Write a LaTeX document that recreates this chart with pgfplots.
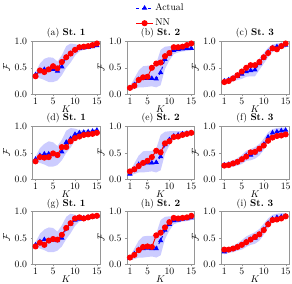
\documentclass[border=0pt]{standalone}
\usepackage{pgfplots}
\pgfplotsset{compat=1.18}
\definecolor{spine}{RGB}{150,150,150}
\definecolor{band}{RGB}{204,204,255}
\pgfplotsset{
  every axis title shift=0pt,
  panel/.style={
    scale only axis, width=69bp, height=54bp,
    xmin=0.3, xmax=15.7, ymin=0, ymax=1,
    xtick={1,5,10,15}, ytick={0,0.5,1}, yticklabels={0.0,0.5,1.0},
    axis line style={spine}, tick style={spine}, tick align=outside,
    major tick length=2pt, xtick pos=bottom, ytick pos=left,
    xticklabel style={inner sep=1.5pt},
    xlabel={$K$}, ylabel={$\mathcal{F}$},
    xlabel style={at={(axis description cs:0.5,-0.2)}, anchor=north, inner sep=1pt},
    ylabel style={yshift=-2pt},
    title style={at={(axis description cs:0.5,1)}, anchor=south, inner sep=0pt, yshift=3pt},
    anchor=north west, clip=false,
  },
  actual/.style={blue, dashed, line width=1pt, mark=triangle*, mark size=2.2pt, mark options={solid}},
  nn/.style={red, solid, line width=1pt, mark=*, mark size=2.6pt},
  bandst/.style={fill=band, draw=none, forget plot},
}
\begin{document}
\begin{tikzpicture}
% ---------- (a)
\begin{axis}[panel, at={(0bp,0bp)}, title={(a) \textbf{St.\ 1}}]
\addplot[bandst] coordinates {(1,0.42)(2,0.58)(3,0.67)(4,0.70)(5,0.69)(6,0.62)(7,0.74)(8,0.91)(9,0.96)(10,0.95)(11,0.92)(12,0.92)(13,0.92)(14,0.93)(15,0.95)
 (15,0.89)(14,0.87)(13,0.86)(12,0.84)(11,0.81)(10,0.73)(9,0.60)(8,0.50)(7,0.36)(6,0.26)(5,0.23)(4,0.23)(3,0.27)(2,0.30)(1,0.32)} --cycle;
\addplot[actual] coordinates {(1,0.37)(2,0.43)(3,0.47)(4,0.46)(5,0.47)(6,0.44)(7,0.52)(8,0.70)(9,0.77)(10,0.83)(11,0.87)(12,0.88)(13,0.89)(14,0.90)(15,0.92)};
\addplot[nn] coordinates {(1,0.34)(2,0.45)(3,0.42)(4,0.47)(5,0.53)(6,0.49)(7,0.61)(8,0.70)(9,0.77)(10,0.84)(11,0.89)(12,0.90)(13,0.91)(14,0.93)(15,0.96)};
\end{axis}
% ---------- (b)
\begin{axis}[panel, at={(96.5bp,0bp)}, title={(b) \textbf{St.\ 2}},
  legend style={at={(0.5,1.19)}, anchor=south, draw=none, fill=none, row sep=3pt},
  legend cell align=left]
\addplot[bandst] coordinates {(1,0.15)(2,0.30)(3,0.45)(4,0.53)(5,0.54)(6,0.54)(7,0.58)(8,0.84)(9,0.90)(10,0.91)(11,0.91)(12,0.91)(13,0.91)(14,0.92)(15,0.92)
 (15,0.83)(14,0.82)(13,0.81)(12,0.79)(11,0.76)(10,0.64)(9,0.48)(8,0.17)(7,0.13)(6,0.15)(5,0.14)(4,0.13)(3,0.13)(2,0.10)(1,0.08)} --cycle;
\addplot[actual] coordinates {(1,0.12)(2,0.18)(3,0.28)(4,0.30)(5,0.30)(6,0.30)(7,0.29)(8,0.41)(9,0.66)(10,0.76)(11,0.83)(12,0.85)(13,0.86)(14,0.87)(15,0.87)};
\addplot[nn] coordinates {(1,0.12)(2,0.16)(3,0.27)(4,0.32)(5,0.33)(6,0.50)(7,0.58)(8,0.60)(9,0.72)(10,0.78)(11,0.89)(12,0.89)(13,0.90)(14,0.93)(15,0.96)};
\legend{Actual, NN}
\end{axis}
% ---------- (c)
\begin{axis}[panel, at={(193bp,0bp)}, title={(c) \textbf{St.\ 3}}]
\addplot[bandst] coordinates {(1,0.29)(2,0.32)(3,0.36)(4,0.41)(5,0.47)(6,0.53)(7,0.56)(8,0.58)(9,0.68)(10,0.78)(11,0.88)(12,0.94)(13,0.96)(14,0.97)(15,0.97)
 (15,0.88)(14,0.86)(13,0.84)(12,0.80)(11,0.70)(10,0.58)(9,0.46)(8,0.34)(7,0.34)(6,0.33)(5,0.29)(4,0.27)(3,0.24)(2,0.22)(1,0.20)} --cycle;
\addplot[actual] coordinates {(1,0.25)(2,0.27)(3,0.30)(4,0.34)(5,0.38)(6,0.43)(7,0.45)(8,0.46)(9,0.58)(10,0.69)(11,0.80)(12,0.88)(13,0.90)(14,0.92)(15,0.93)};
\addplot[nn] coordinates {(1,0.23)(2,0.25)(3,0.30)(4,0.36)(5,0.43)(6,0.50)(7,0.55)(8,0.55)(9,0.61)(10,0.70)(11,0.78)(12,0.87)(13,0.85)(14,0.91)(15,0.96)};
\end{axis}
% ---------- (d)
\begin{axis}[panel, at={(0bp,-87bp)}, title={(d) \textbf{St.\ 1}}]
\addplot[bandst] coordinates {(1,0.43)(2,0.59)(3,0.67)(4,0.72)(5,0.70)(6,0.63)(7,0.75)(8,0.92)(9,0.97)(10,0.96)(11,0.93)(12,0.93)(13,0.93)(14,0.94)(15,0.96)
 (15,0.90)(14,0.88)(13,0.87)(12,0.85)(11,0.82)(10,0.74)(9,0.60)(8,0.50)(7,0.36)(6,0.27)(5,0.24)(4,0.24)(3,0.28)(2,0.31)(1,0.33)} --cycle;
\addplot[actual] coordinates {(1,0.38)(2,0.45)(3,0.48)(4,0.48)(5,0.47)(6,0.45)(7,0.52)(8,0.70)(9,0.77)(10,0.85)(11,0.88)(12,0.89)(13,0.90)(14,0.91)(15,0.93)};
\addplot[nn] coordinates {(1,0.34)(2,0.42)(3,0.41)(4,0.42)(5,0.49)(6,0.46)(7,0.61)(8,0.61)(9,0.72)(10,0.78)(11,0.81)(12,0.84)(13,0.85)(14,0.86)(15,0.88)};
\end{axis}
% ---------- (e)
\begin{axis}[panel, at={(96.5bp,-87bp)}, title={(e) \textbf{St.\ 2}}]
\addplot[bandst] coordinates {(1,0.14)(2,0.30)(3,0.45)(4,0.53)(5,0.54)(6,0.54)(7,0.58)(8,0.84)(9,0.90)(10,0.91)(11,0.91)(12,0.91)(13,0.91)(14,0.92)(15,0.92)
 (15,0.84)(14,0.82)(13,0.81)(12,0.79)(11,0.76)(10,0.64)(9,0.48)(8,0.17)(7,0.13)(6,0.15)(5,0.14)(4,0.13)(3,0.13)(2,0.10)(1,0.07)} --cycle;
\addplot[actual] coordinates {(1,0.10)(2,0.18)(3,0.28)(4,0.30)(5,0.31)(6,0.31)(7,0.32)(8,0.43)(9,0.66)(10,0.75)(11,0.82)(12,0.84)(13,0.86)(14,0.87)(15,0.88)};
\addplot[nn] coordinates {(1,0.15)(2,0.19)(3,0.25)(4,0.31)(5,0.35)(6,0.42)(7,0.54)(8,0.51)(9,0.68)(10,0.72)(11,0.80)(12,0.81)(13,0.84)(14,0.86)(15,0.88)};
\end{axis}
% ---------- (f)
\begin{axis}[panel, at={(193bp,-87bp)}, title={(f) \textbf{St.\ 3}}]
\addplot[bandst] coordinates {(1,0.31)(2,0.33)(3,0.36)(4,0.40)(5,0.46)(6,0.54)(7,0.57)(8,0.61)(9,0.67)(10,0.77)(11,0.89)(12,0.95)(13,0.97)(14,0.98)(15,0.98)
 (15,0.88)(14,0.86)(13,0.84)(12,0.80)(11,0.70)(10,0.56)(9,0.45)(8,0.39)(7,0.36)(6,0.35)(5,0.29)(4,0.26)(3,0.24)(2,0.23)(1,0.23)} --cycle;
\addplot[actual] coordinates {(1,0.27)(2,0.28)(3,0.30)(4,0.33)(5,0.37)(6,0.45)(7,0.46)(8,0.50)(9,0.56)(10,0.66)(11,0.80)(12,0.88)(13,0.90)(14,0.92)(15,0.93)};
\addplot[nn] coordinates {(1,0.26)(2,0.27)(3,0.30)(4,0.33)(5,0.38)(6,0.43)(7,0.51)(8,0.52)(9,0.58)(10,0.64)(11,0.73)(12,0.79)(13,0.82)(14,0.83)(15,0.85)};
\end{axis}
% ---------- (g)
\begin{axis}[panel, at={(0bp,-174bp)}, title={(g) \textbf{St.\ 1}}]
\addplot[bandst] coordinates {(1,0.42)(2,0.58)(3,0.66)(4,0.70)(5,0.69)(6,0.62)(7,0.74)(8,0.90)(9,0.96)(10,0.94)(11,0.91)(12,0.91)(13,0.92)(14,0.93)(15,0.94)
 (15,0.88)(14,0.87)(13,0.86)(12,0.84)(11,0.81)(10,0.73)(9,0.59)(8,0.48)(7,0.34)(6,0.26)(5,0.23)(4,0.23)(3,0.27)(2,0.30)(1,0.32)} --cycle;
\addplot[actual] coordinates {(1,0.37)(2,0.43)(3,0.47)(4,0.45)(5,0.46)(6,0.45)(7,0.50)(8,0.68)(9,0.77)(10,0.84)(11,0.86)(12,0.88)(13,0.89)(14,0.90)(15,0.91)};
\addplot[nn] coordinates {(1,0.34)(2,0.41)(3,0.37)(4,0.45)(5,0.48)(6,0.47)(7,0.56)(8,0.69)(9,0.78)(10,0.87)(11,0.89)(12,0.87)(13,0.89)(14,0.91)(15,0.92)};
\end{axis}
% ---------- (h)
\begin{axis}[panel, at={(96.5bp,-174bp)}, title={(h) \textbf{St.\ 2}}]
\addplot[bandst] coordinates {(1,0.15)(2,0.30)(3,0.45)(4,0.53)(5,0.54)(6,0.54)(7,0.58)(8,0.84)(9,0.90)(10,0.91)(11,0.91)(12,0.91)(13,0.91)(14,0.92)(15,0.92)
 (15,0.84)(14,0.82)(13,0.81)(12,0.79)(11,0.76)(10,0.64)(9,0.48)(8,0.17)(7,0.13)(6,0.15)(5,0.14)(4,0.13)(3,0.13)(2,0.10)(1,0.08)} --cycle;
\addplot[actual] coordinates {(1,0.12)(2,0.20)(3,0.28)(4,0.30)(5,0.31)(6,0.30)(7,0.30)(8,0.45)(9,0.65)(10,0.76)(11,0.83)(12,0.84)(13,0.86)(14,0.87)(15,0.88)};
\addplot[nn] coordinates {(1,0.13)(2,0.18)(3,0.27)(4,0.33)(5,0.34)(6,0.33)(7,0.55)(8,0.60)(9,0.70)(10,0.80)(11,0.88)(12,0.87)(13,0.88)(14,0.89)(15,0.92)};
\end{axis}
% ---------- (i)
\begin{axis}[panel, at={(193bp,-174bp)}, title={(i) \textbf{St.\ 3}}]
\addplot[bandst] coordinates {(1,0.29)(2,0.32)(3,0.35)(4,0.40)(5,0.46)(6,0.53)(7,0.57)(8,0.61)(9,0.67)(10,0.77)(11,0.87)(12,0.94)(13,0.96)(14,0.97)(15,0.97)
 (15,0.86)(14,0.84)(13,0.83)(12,0.79)(11,0.69)(10,0.56)(9,0.45)(8,0.39)(7,0.37)(6,0.33)(5,0.28)(4,0.26)(3,0.23)(2,0.22)(1,0.19)} --cycle;
\addplot[actual] coordinates {(1,0.24)(2,0.27)(3,0.29)(4,0.33)(5,0.37)(6,0.43)(7,0.47)(8,0.50)(9,0.56)(10,0.66)(11,0.78)(12,0.86)(13,0.89)(14,0.90)(15,0.91)};
\addplot[nn] coordinates {(1,0.28)(2,0.28)(3,0.30)(4,0.33)(5,0.37)(6,0.42)(7,0.47)(8,0.52)(9,0.57)(10,0.65)(11,0.76)(12,0.84)(13,0.85)(14,0.87)(15,0.91)};
\end{axis}
\end{tikzpicture}
\end{document}
